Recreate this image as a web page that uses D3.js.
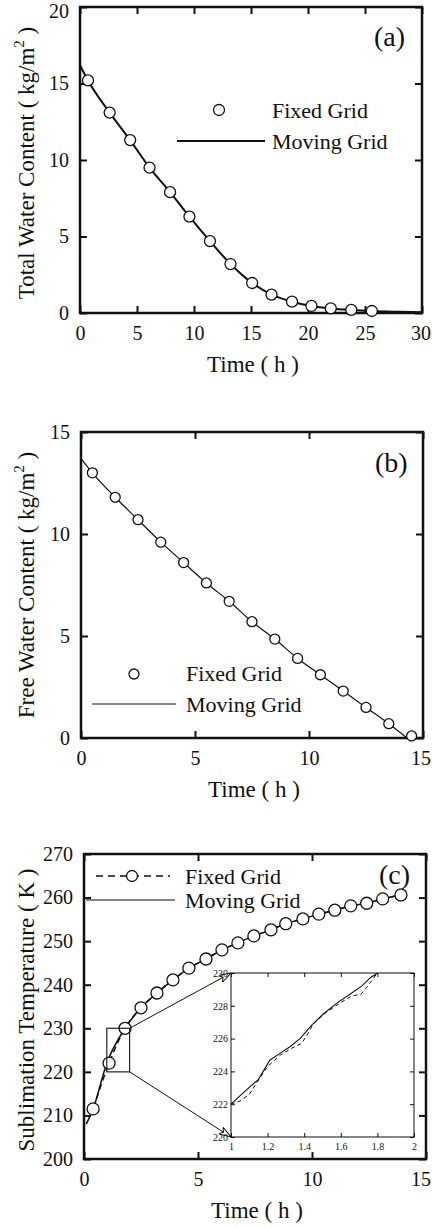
<!DOCTYPE html>
<html>
<meta charset="UTF-8">

<head>
  <script src="https://cdn.jsdelivr.net/npm/d3@7"></script>
  <style>
    body { margin: 0; background: white; }
    text { font-family: "Liberation Serif", "Times New Roman", serif; fill: #111; }
  </style>
</head>

<body>
  <svg id="chart" width="432" height="1227"></svg>

  <script type="text/javascript">
    // (a) total water content
    const aFixedT = [0.7, 2.6, 4.4, 6.1, 7.9, 9.6, 11.4, 13.2, 15.1, 16.8, 18.6, 20.3, 22.0, 23.8, 25.6]
    const aFixedV = [15.2, 13.1, 11.3, 9.5, 7.9, 6.3, 4.7, 3.2, 1.96, 1.2, 0.74, 0.46, 0.3, 0.2, 0.13]
    const aMovingT = [0, 0.7, 2.6, 4.4, 6.1, 7.9, 9.6, 11.4, 13.2, 15.1, 16.8, 18.6, 20.3, 22.0, 23.8, 25.6, 28, 30]
    const aMovingV = [16.2, 15.2, 13.1, 11.3, 9.5, 7.9, 6.3, 4.7, 3.2, 1.96, 1.2, 0.74, 0.46, 0.3, 0.2, 0.13, 0.08, 0.05]

    // (b) free water content
    const bFixedT = [0.5, 1.5, 2.5, 3.5, 4.5, 5.5, 6.5, 7.5, 8.5, 9.5, 10.5, 11.5, 12.5, 13.5, 14.5]
    const bFixedV = [13.0, 11.8, 10.7, 9.6, 8.6, 7.6, 6.7, 5.7, 4.85, 3.9, 3.1, 2.3, 1.5, 0.7, 0.1]
    const bMovingT = [0, 0.5, 1.5, 2.5, 3.5, 4.5, 5.5, 6.5, 7.5, 8.5, 9.5, 10.5, 11.5, 12.5, 13.5, 14.3]
    const bMovingV = [13.7, 13.0, 11.8, 10.7, 9.6, 8.6, 7.6, 6.7, 5.7, 4.85, 3.9, 3.1, 2.3, 1.5, 0.7, 0]

    // (c) sublimation temperature
    const cFixedT = [0.4, 1.1, 1.8, 2.5, 3.2, 3.9, 4.6, 5.35, 6.05, 6.75, 7.45, 8.2, 8.85, 9.6, 10.3, 11.0, 11.7, 12.4, 13.1, 13.9]
    const cFixedV = [211.5, 222, 230, 234.7, 238.1, 241.1, 243.8, 245.9, 248, 249.6, 251.2, 252.6, 254, 255.1, 256.2, 257.1, 258.1, 258.7, 259.7, 260.6]
    const cMovingT = [0.1, 0.4, 1.0, 1.8, 2.5, 3.2, 3.9, 4.6, 5.35, 6.05, 6.75, 7.45, 8.2, 8.85, 9.6, 10.3, 11.0, 11.7, 12.4, 13.1, 13.9, 14.1]
    const cMovingV = [208, 211.5, 222, 230, 234.7, 238.1, 241.1, 243.8, 245.9, 248, 249.6, 251.2, 252.6, 254, 255.1, 256.2, 257.1, 258.1, 258.7, 259.7, 260.6, 260.8]

    // (c) inset, 1 h to 2 h
    const inMovingT = [1.0, 1.077, 1.149, 1.213, 1.268, 1.322, 1.377, 1.44, 1.504, 1.577, 1.65, 1.714, 1.76, 1.8]
    const inMovingV = [222.0, 222.8, 223.5, 224.7, 225.1, 225.5, 226.0, 226.8, 227.5, 228.15, 228.7, 229.2, 229.7, 230.0]
    const inFixedT = [1.0, 1.05, 1.1, 1.14, 1.2, 1.27, 1.33, 1.385, 1.42, 1.45, 1.52, 1.6, 1.66, 1.71, 1.74, 1.8]
    const inFixedV = [222.0, 222.2, 222.6, 223.3, 224.3, 225.0, 225.4, 225.7, 226.3, 226.9, 227.6, 228.2, 228.6, 228.7, 229.1, 230.0]

    const zoomBox = { t: [1, 2], v: [220, 230] }

    const svg = d3.select("#chart")

    const zip = (ts, vs) => ts.map((t, i) => [t, vs[i]])

    function panel(p) {
      const x = d3.scaleLinear().domain(p.xDomain).range([p.left, p.right])
      const y = d3.scaleLinear().domain(p.yDomain).range([p.bottom, p.top])
      const g = svg.append("g")

      const xt = d3.range(p.xDomain[0], p.xDomain[1] + 0.001, p.xStep)
      const yt = d3.range(p.yDomain[0], p.yDomain[1] + 0.001, p.yStep)

      const axes = [
        [d3.axisBottom(x).tickValues(xt).tickSize(-7).tickPadding(13), `translate(0,${p.bottom})`],
        [d3.axisTop(x).tickValues(xt).tickSize(-7).tickFormat(""), `translate(0,${p.top})`],
        [d3.axisLeft(y).tickValues(yt).tickSize(-7).tickPadding(11), `translate(${p.left},0)`],
        [d3.axisRight(y).tickValues(yt).tickSize(-7).tickFormat(""), `translate(${p.right},0)`]
      ]
      axes.forEach(([ax, tr]) => {
        const a = g.append("g").attr("transform", tr).call(ax)
        a.select(".domain").remove()
        a.selectAll("line").style("stroke", "#111").style("stroke-width", "2px")
        a.selectAll("text").style("font-size", "20px").style("font-family", "Liberation Serif")
        // keep edge labels inside the page
        a.selectAll("text").each(function () {
          const b = this.getBBox()
          const m = this.parentNode.transform.baseVal.consolidate().matrix
          const ox = m.e + (tr.includes("(0,") ? 0 : 0)
          const gx = this.parentNode.parentNode.transform.baseVal.consolidate()
          const tx = (gx ? gx.matrix.e : 0) + m.e + b.x + b.width
          const ty = (gx ? gx.matrix.f : 0) + m.f + b.y
          if (tx > 431) d3.select(this).attr("x", +(d3.select(this).attr("x") || 0) - (tx - 431))
          if (ty < 0) d3.select(this).attr("y", +(d3.select(this).attr("y") || 0) - ty)
        })
      })

      g.append("rect")
        .attr("x", p.left).attr("y", p.top)
        .attr("width", p.right - p.left).attr("height", p.bottom - p.top)
        .style("fill", "none").style("stroke", "#111").style("stroke-width", "2.5px")

      // axis titles
      g.append("text")
        .attr("x", (p.left + p.right) / 2 + 2).attr("y", p.bottom + 59)
        .style("text-anchor", "middle").style("font-size", "23px")
        .text("Time ( h )")

      const yl = g.append("text")
        .attr("transform", `translate(34,${p.yLabelY}) rotate(-90)`)
        .style("text-anchor", "middle").style("font-size", "23px")
      if (p.sup) {
        yl.append("tspan").text(p.yLabel)
        yl.append("tspan").attr("dy", -10).style("font-size", "15px").text("2")
        yl.append("tspan").attr("dy", 10).text(" )")
      } else {
        yl.text(p.yLabel)
      }

      g.append("text")
        .attr("x", p.tagX).attr("y", p.tagY)
        .style("font-size", "28px")
        .text(p.tag)

      return { g, x, y }
    }

    const line = (x, y) => d3.line().x(d => x(d[0])).y(d => y(d[1])).curve(d3.curveMonotoneX)

    function circles(g, x, y, data, r) {
      g.append("g").selectAll("circle")
        .data(data).enter()
        .append("circle")
        .attr("cx", d => x(d[0])).attr("cy", d => y(d[1])).attr("r", r)
        .style("fill", "white").style("stroke", "#111").style("stroke-width", "1.3px")
    }

    function legendText(g, x, y, t) {
      g.append("text").attr("x", x).attr("y", y).style("font-size", "22px").text(t)
    }

    // ---- (a)
    const A = panel({
      left: 80, right: 422, top: 7, bottom: 313,
      xDomain: [0, 30], xStep: 5, yDomain: [0, 20], yStep: 5,
      yLabel: "Total Water Content ( kg/m", sup: true, yLabelY: 163,
      tag: "(a)", tagX: 374, tagY: 46
    })
    A.g.append("path").datum(zip(aMovingT, aMovingV))
      .attr("d", line(A.x, A.y))
      .style("fill", "none").style("stroke", "#111").style("stroke-width", "2px")
    circles(A.g, A.x, A.y, zip(aFixedT, aFixedV), 5.5)

    A.g.append("circle").attr("cx", 219).attr("cy", 110).attr("r", 5.5)
      .style("fill", "white").style("stroke", "#111").style("stroke-width", "1.3px")
    legendText(A.g, 272, 118, "Fixed Grid")
    A.g.append("line").attr("x1", 177).attr("x2", 265).attr("y1", 141).attr("y2", 141)
      .style("stroke", "#111").style("stroke-width", "2px")
    legendText(A.g, 272, 149, "Moving Grid")

    // ---- (b)
    const B = panel({
      left: 81, right: 423, top: 432, bottom: 738,
      xDomain: [0, 15], xStep: 5, yDomain: [0, 15], yStep: 5,
      yLabel: "Free Water Content ( kg/m", sup: true, yLabelY: 585,
      tag: "(b)", tagX: 375, tagY: 472
    })
    B.g.append("path").datum(zip(bMovingT, bMovingV))
      .attr("d", line(B.x, B.y))
      .style("fill", "none").style("stroke", "#111").style("stroke-width", "1.2px")
    circles(B.g, B.x, B.y, zip(bFixedT, bFixedV), 5)

    B.g.append("circle").attr("cx", 134).attr("cy", 674).attr("r", 5)
      .style("fill", "white").style("stroke", "#111").style("stroke-width", "1.3px")
    legendText(B.g, 186, 681, "Fixed Grid")
    B.g.append("line").attr("x1", 92).attr("x2", 176).attr("y1", 704).attr("y2", 704)
      .style("stroke", "#111").style("stroke-width", "1.2px")
    legendText(B.g, 186, 712, "Moving Grid")

    // ---- (c)
    const C = panel({
      left: 84, right: 426, top: 854, bottom: 1159,
      xDomain: [0, 15], xStep: 5, yDomain: [200, 270], yStep: 10,
      yLabel: "Sublimation Temperature ( K )", sup: false, yLabelY: 1010,
      tag: "(c)", tagX: 379, tagY: 884
    })
    C.g.append("path").datum(zip(cMovingT, cMovingV))
      .attr("d", line(C.x, C.y))
      .style("fill", "none").style("stroke", "#111").style("stroke-width", "1.5px")
    C.g.append("path").datum(zip(cFixedT, cFixedV))
      .attr("d", line(C.x, C.y))
      .style("fill", "none").style("stroke", "#111").style("stroke-width", "1.5px")
      .style("stroke-dasharray", "6,4")
    circles(C.g, C.x, C.y, zip(cFixedT, cFixedV), 6)

    C.g.append("line").attr("x1", 96).attr("x2", 170).attr("y1", 876).attr("y2", 876)
      .style("stroke", "#111").style("stroke-width", "1.5px").style("stroke-dasharray", "7,5")
    C.g.append("circle").attr("cx", 132).attr("cy", 876).attr("r", 5.5)
      .style("fill", "white").style("stroke", "#111").style("stroke-width", "1.3px")
    legendText(C.g, 185, 884, "Fixed Grid")
    C.g.append("line").attr("x1", 86).attr("x2", 175).attr("y1", 900).attr("y2", 900)
      .style("stroke", "#111").style("stroke-width", "1.2px")
    legendText(C.g, 185, 908, "Moving Grid")

    // zoom box and arrows to inset
    const inset = { left: 231, right: 414, top: 973, bottom: 1137 }
    const xi = d3.scaleLinear().domain(zoomBox.t).range([inset.left, inset.right])
    const yi = d3.scaleLinear().domain(zoomBox.v).range([inset.bottom, inset.top])

    C.g.append("rect")
      .attr("x", C.x(zoomBox.t[0])).attr("y", C.y(zoomBox.v[1]))
      .attr("width", C.x(zoomBox.t[1]) - C.x(zoomBox.t[0]))
      .attr("height", C.y(zoomBox.v[0]) - C.y(zoomBox.v[1]))
      .style("fill", "none").style("stroke", "#222").style("stroke-width", "1.2px")

    svg.append("defs").append("marker")
      .attr("id", "arr").attr("viewBox", "0 0 12 8")
      .attr("refX", 12).attr("refY", 4)
      .attr("markerWidth", 12).attr("markerHeight", 8)
      .attr("markerUnits", "userSpaceOnUse")
      .attr("orient", "auto")
      .append("path").attr("d", "M0,0 L12,4 L0,8 L3,4 Z")
      .style("fill", "white").style("stroke", "#111").style("stroke-width", "1px")

    const arrows = [
      [C.x(zoomBox.t[1]), C.y(zoomBox.v[1]), inset.left, inset.top],
      [C.x(zoomBox.t[1]), C.y(zoomBox.v[0]), inset.left, inset.bottom]
    ]
    C.g.selectAll("line.arrow").data(arrows).enter()
      .append("line").attr("class", "arrow")
      .attr("x1", d => d[0]).attr("y1", d => d[1])
      .attr("x2", d => d[2]).attr("y2", d => d[3])
      .attr("marker-end", "url(#arr)")
      .style("stroke", "#111").style("stroke-width", "1px")

    // inset plot
    const I = svg.append("g")
    I.append("rect")
      .attr("x", inset.left).attr("y", inset.top)
      .attr("width", inset.right - inset.left).attr("height", inset.bottom - inset.top)
      .style("fill", "white").style("stroke", "#111").style("stroke-width", "1px")

    const ixt = [1, 1.2, 1.4, 1.6, 1.8, 2]
    const iyt = [220, 222, 224, 226, 228, 230]
    const iaxes = [
      [d3.axisBottom(xi).tickValues(ixt).tickSize(-4).tickPadding(6).tickFormat(d3.format("")), `translate(0,${inset.bottom})`],
      [d3.axisTop(xi).tickValues(ixt).tickSize(-4).tickFormat(""), `translate(0,${inset.top})`],
      [d3.axisLeft(yi).tickValues(iyt).tickSize(-4).tickPadding(3), `translate(${inset.left},0)`],
      [d3.axisRight(yi).tickValues(iyt).tickSize(-4).tickFormat(""), `translate(${inset.right},0)`]
    ]
    iaxes.forEach(([ax, tr]) => {
      const a = I.append("g").attr("transform", tr).call(ax)
      a.select(".domain").remove()
      a.selectAll("line").style("stroke", "#111").style("stroke-width", "1px")
      a.selectAll("text").style("font-size", "10px").style("font-family", "Liberation Serif")
    })

    I.append("path").datum(zip(inMovingT, inMovingV))
      .attr("d", d3.line().x(d => xi(d[0])).y(d => yi(d[1])))
      .style("fill", "none").style("stroke", "#111").style("stroke-width", "1.1px")
    I.append("path").datum(zip(inFixedT, inFixedV))
      .attr("d", d3.line().x(d => xi(d[0])).y(d => yi(d[1])))
      .style("fill", "none").style("stroke", "#111").style("stroke-width", "1px")
      .style("stroke-dasharray", "4,3")
  </script>
</body>

</html>
